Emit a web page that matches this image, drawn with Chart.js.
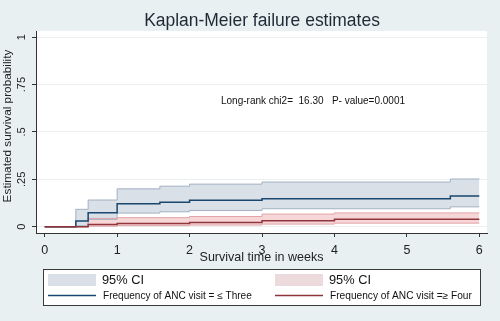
<!DOCTYPE html>
<html>
<head>
<meta charset="utf-8">
<script src="https://cdn.jsdelivr.net/npm/chart.js@4"></script>
<style>
  html, body { margin: 0; padding: 0; background: #e8f0f2; }
  #wrap { width: 500px; height: 321px; }
</style>
</head>
<body>
<div id="wrap"><canvas id="km"></canvas></div>
<script>
// weeks at which each curve steps, and the failure estimate from that time on
var time_three = [0, 0.43, 0.60, 1.0, 1.59, 2.0, 3.0, 5.60, 6.0];
var fail_three = [0, 0.030, 0.074, 0.122, 0.129, 0.140, 0.148, 0.162, 0.162];
var upper_three = [0, 0.092, 0.141, 0.200, 0.214, 0.225, 0.236, 0.252, 0.252];
var lower_three = [0, 0.005, 0.039, 0.072, 0.079, 0.086, 0.095, 0.105, 0.105];

var time_four = [0, 0.60, 1.0, 2.0, 3.0, 4.0, 6.0];
var fail_four = [0, 0.012, 0.017, 0.023, 0.032, 0.040, 0.040];
var upper_four = [0, 0.044, 0.048, 0.054, 0.067, 0.073, 0.073];
var lower_four = [0, 0.003, 0.006, 0.009, 0.014, 0.019, 0.019];

var x_ticks = [0, 1, 2, 3, 4, 5, 6];
var y_ticks = [0, 0.25, 0.5, 0.75, 1];
var y_tick_labels = ["0", ".25", ".5", ".75", "1"];

var label_three = "Frequency of ANC visit = \u2264 Three";
var label_four = "Frequency of ANC visit =\u2265 Four";
var ci_label = "95% CI";
var chart_title = "Kaplan-Meier failure estimates";
var note_text = "Long-rank chi2=  16.30   P- value=0.0001";

var BG = "#e8f0f2";
var BLUE = "#1a476f";
var RED = "#90353b";
var BLUE_BAND = "#d9e0e8";
var BLUE_EDGE = "#a3b1c2";
var RED_BAND = "rgba(240, 180, 184, 0.55)";
var RED_EDGE = "#e2a4a8";
var FONT = "Arial, 'Liberation Sans', Helvetica, sans-serif";

function points(xs, ys) {
    var out = [];
    for (let i = 0; i < xs.length; i++) {
        out.push({ x: xs[i], y: ys[i] });
    }
    return out;
}

// pick a font size so the text takes the width it has in the picture
function fitFont(ctx, text, width) {
    ctx.font = "20px " + FONT;
    var size = 20 * width / ctx.measureText(text).width;
    ctx.font = size.toFixed(2) + "px " + FONT;
}

var extras = {
    id: "extras",
    beforeDraw: function(chart) {
        var ctx = chart.ctx;
        var a = chart.chartArea;
        ctx.save();
        ctx.fillStyle = BG;
        ctx.fillRect(0, 0, chart.width, chart.height);
        ctx.fillStyle = "#ffffff";
        ctx.fillRect(a.left, a.top, a.right - a.left, a.bottom - a.top);
        ctx.restore();
    },
    afterDraw: function(chart) {
        var ctx = chart.ctx;
        var ys = chart.scales.y;
        var xs = chart.scales.x;
        ctx.save();
        ctx.textBaseline = "middle";

        // title
        ctx.fillStyle = "#1f2a36";
        fitFont(ctx, chart_title, 236);
        ctx.textAlign = "center";
        ctx.fillText(chart_title, 262, 21);

        // log-rank note
        ctx.fillStyle = "#111";
        fitFont(ctx, note_text, 184);
        ctx.textAlign = "left";
        ctx.fillText(note_text, 221, 101);

        // y tick labels, rotated like stata
        ctx.font = "11px " + FONT;
        ctx.fillStyle = "#222";
        ctx.textAlign = "center";
        for (let i = 0; i < y_ticks.length; i++) {
            var py = ys.getPixelForValue(y_ticks[i]);
            ctx.save();
            ctx.translate(22, py);
            ctx.rotate(-Math.PI / 2);
            ctx.fillText(y_tick_labels[i], 0, 0);
            ctx.restore();
        }

        // y axis title
        ctx.save();
        ctx.translate(8, 126);
        ctx.rotate(-Math.PI / 2);
        fitFont(ctx, "Estimated survival probability", 153);
        ctx.fillText("Estimated survival probability", 0, 0);
        ctx.restore();

        // x axis title
        fitFont(ctx, "Survival time in weeks", 124);
        ctx.fillText("Survival time in weeks", (xs.left + xs.right) / 2, 258);

        // legend
        ctx.fillStyle = "#ffffff";
        ctx.fillRect(43, 269, 438, 37);
        ctx.strokeStyle = "#3a3a3a";
        ctx.lineWidth = 1;
        ctx.strokeRect(43.5, 269.5, 437, 36);

        var cols = [
            { x: 48, band: BLUE_BAND, line: BLUE, text: label_three, w: 149 },
            { x: 275, band: "#ecdadd", line: RED, text: label_four, w: 142 }
        ];
        cols.forEach(function(c) {
            ctx.fillStyle = c.band;
            ctx.fillRect(c.x, 274, 48, 12);
            ctx.strokeStyle = c.line;
            ctx.lineWidth = 1.4;
            ctx.beginPath();
            ctx.moveTo(c.x, 295.5);
            ctx.lineTo(c.x + 48, 295.5);
            ctx.stroke();
            ctx.fillStyle = "#111";
            ctx.textAlign = "left";
            fitFont(ctx, ci_label, 42);
            ctx.fillText(ci_label, c.x + 54, 280);
            fitFont(ctx, c.text, c.w);
            ctx.fillText(c.text, c.x + 55, 296);
        });

        ctx.restore();
    }
};

const ctx = document.getElementById("km").getContext("2d");
const kmChart = new Chart(ctx, {
    type: "line",
    data: {
        datasets: [{
            label: label_four,
            data: points(time_four, fail_four),
            borderColor: RED,
            borderWidth: 1.5,
            stepped: "before",
            pointRadius: 0,
            fill: false,
        }, {
            label: label_three,
            data: points(time_three, fail_three),
            borderColor: BLUE,
            borderWidth: 1.5,
            stepped: "before",
            pointRadius: 0,
            fill: false,
        }, {
            label: "upper four",
            data: points(time_four, upper_four),
            borderColor: RED_EDGE,
            borderWidth: 1,
            stepped: "before",
            pointRadius: 0,
            backgroundColor: RED_BAND,
            fill: "+1",
        }, {
            label: "lower four",
            data: points(time_four, lower_four),
            borderColor: RED_EDGE,
            borderWidth: 1,
            stepped: "before",
            pointRadius: 0,
            fill: false,
        }, {
            label: "upper three",
            data: points(time_three, upper_three),
            borderColor: BLUE_EDGE,
            borderWidth: 1,
            stepped: "before",
            pointRadius: 0,
            backgroundColor: BLUE_BAND,
            fill: "+1",
        }, {
            label: "lower three",
            data: points(time_three, lower_three),
            borderColor: BLUE_EDGE,
            borderWidth: 1,
            stepped: "before",
            pointRadius: 0,
            fill: false,
        }, ],
    },
    options: {
        responsive: true,
        maintainAspectRatio: false,
        animation: false,
        layout: {
            padding: { top: 31, left: 0, right: 13, bottom: 56 },
        },
        plugins: {
            legend: { display: false },
            tooltip: { enabled: false },
            filler: { drawTime: "beforeDatasetsDraw" },
        },
        scales: {
            x: {
                type: "linear",
                min: -0.12,
                max: 6.106,
                afterFit: function(s) { s.height = 32; },
                afterBuildTicks: function(s) {
                    s.ticks = x_ticks.map(function(v) { return { value: v }; });
                },
                ticks: {
                    color: "#222",
                    font: { family: FONT, size: 12.5 },
                    padding: 6,
                    maxRotation: 0,
                    callback: function(v) { return String(v); },
                },
                grid: {
                    drawOnChartArea: false,
                    drawTicks: true,
                    tickLength: 4,
                    tickColor: "#333",
                },
                border: { color: "#333", width: 1 },
            },
            y: {
                type: "linear",
                min: -0.033,
                max: 1.033,
                afterFit: function(s) { s.width = 36; },
                afterBuildTicks: function(s) {
                    s.ticks = y_ticks.map(function(v) { return { value: v }; });
                },
                ticks: {
                    callback: function() { return ""; },
                },
                grid: {
                    color: "#eaeff1",
                    drawTicks: true,
                    tickLength: 4,
                    tickColor: "#333",
                },
                border: { color: "#333", width: 1 },
            },
        },
    },
    plugins: [extras],
});
</script>
</body>
</html>
